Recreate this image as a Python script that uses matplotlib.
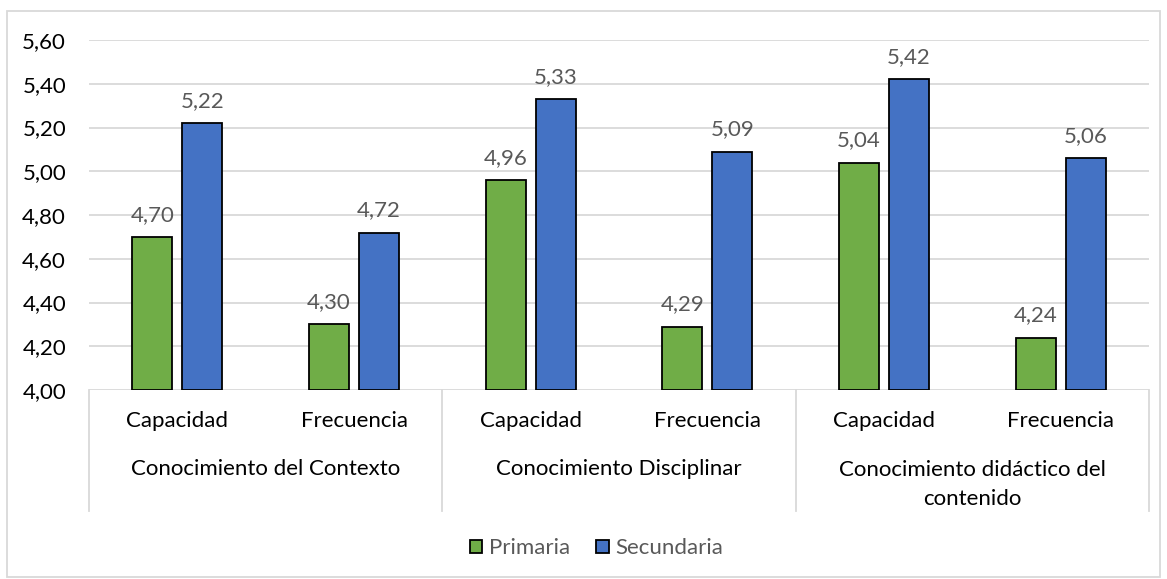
import matplotlib
matplotlib.use("Agg")
import matplotlib.pyplot as plt
from matplotlib.patches import Rectangle
import matplotlib.transforms as mtransforms

subcategories = ["Capacidad", "Frecuencia", "Capacidad", "Frecuencia", "Capacidad", "Frecuencia"]
groups = ["Conocimiento del Contexto", "Conocimiento Disciplinar", "Conocimiento didáctico del\ncontenido"]
primaria = [4.70, 4.30, 4.96, 4.29, 5.04, 4.24]
secundaria = [5.22, 4.72, 5.33, 5.09, 5.42, 5.06]
series_names = ["Primaria", "Secundaria"]
yticks = [4.00, 4.20, 4.40, 4.60, 4.80, 5.00, 5.20, 5.40, 5.60]

plt.rcParams['font.family'] = ['Lato', 'DejaVu Sans']
FS = 16

fig = plt.figure(figsize=(11.67, 5.79), dpi=100)
ax = fig.add_axes([0.0763, 0.3264, 0.9083, 0.6045])

green = "#70ad47"
blue = "#4472c4"
bw = 0.226
off = 0.1415
x = list(range(len(subcategories)))

b1 = ax.bar([i - off for i in x], [v - 4 for v in primaria], bottom=4, width=bw,
            color=green, edgecolor="black", linewidth=1.3, label=series_names[0], zorder=3)
b2 = ax.bar([i + off for i in x], [v - 4 for v in secundaria], bottom=4, width=bw,
            color=blue, edgecolor="black", linewidth=1.3, label=series_names[1], zorder=3)

for bars, vals in ((b1, primaria), (b2, secundaria)):
    for r, v in zip(bars, vals):
        ax.annotate(f"{v:.2f}".replace(".", ","), (r.get_x() + r.get_width() / 2, v),
                    xytext=(0, 12), textcoords="offset pixels", ha="center", va="bottom",
                    fontsize=FS, color="#595959")

ax.set_ylim(4.0, 5.6)
ax.set_xlim(-0.5, 5.5)
ax.set_yticks(yticks)
ax.set_yticklabels([f"{t:.2f}".replace(".", ",") for t in yticks], fontsize=FS, color="#000000")
ax.tick_params(axis="y", length=0, pad=16.5)
ax.tick_params(axis="x", length=0)
ax.set_xticks([])
ax.grid(axis="y", color="#d9d9d9", linewidth=1.3, zorder=0)
for s in ax.spines.values():
    s.set_visible(False)

trans = mtransforms.blended_transform_factory(ax.transData, ax.transAxes)
for i, lab in enumerate(subcategories):
    ax.text(i, -0.088, lab, transform=trans, ha="center", va="center", fontsize=FS, color="#000000")
for g, lab in enumerate(groups):
    if "\n" in lab:
        ax.text(2 * g + 0.5, -0.27, lab, transform=trans, ha="center", va="center",
                fontsize=FS, color="#000000", linespacing=1.58)
    else:
        ax.text(2 * g + 0.5, -0.225, lab, transform=trans, ha="center", va="center",
                fontsize=FS, color="#000000")
for xs in [-0.5, 1.5, 3.5, 5.5]:
    ax.plot([xs, xs], [0, -0.346], transform=trans, color="#d9d9d9", linewidth=1.3, clip_on=False)

leg = fig.legend(handles=[b1, b2], labels=series_names, loc="center", bbox_to_anchor=(0.511, 0.053),
                 ncol=2, frameon=False, fontsize=FS, handlelength=0.55, handleheight=0.55,
                 handletextpad=0.3, columnspacing=1.2)
for t in leg.get_texts():
    t.set_color("#595959")

fig.patches.append(Rectangle((7 / 1167, 1 - 577 / 579), 1153 / 1167, 566 / 579, transform=fig.transFigure,
                             fill=False, edgecolor="#d9d9d9", linewidth=1.3))

fig.savefig("out.png", dpi=100, facecolor="white")
